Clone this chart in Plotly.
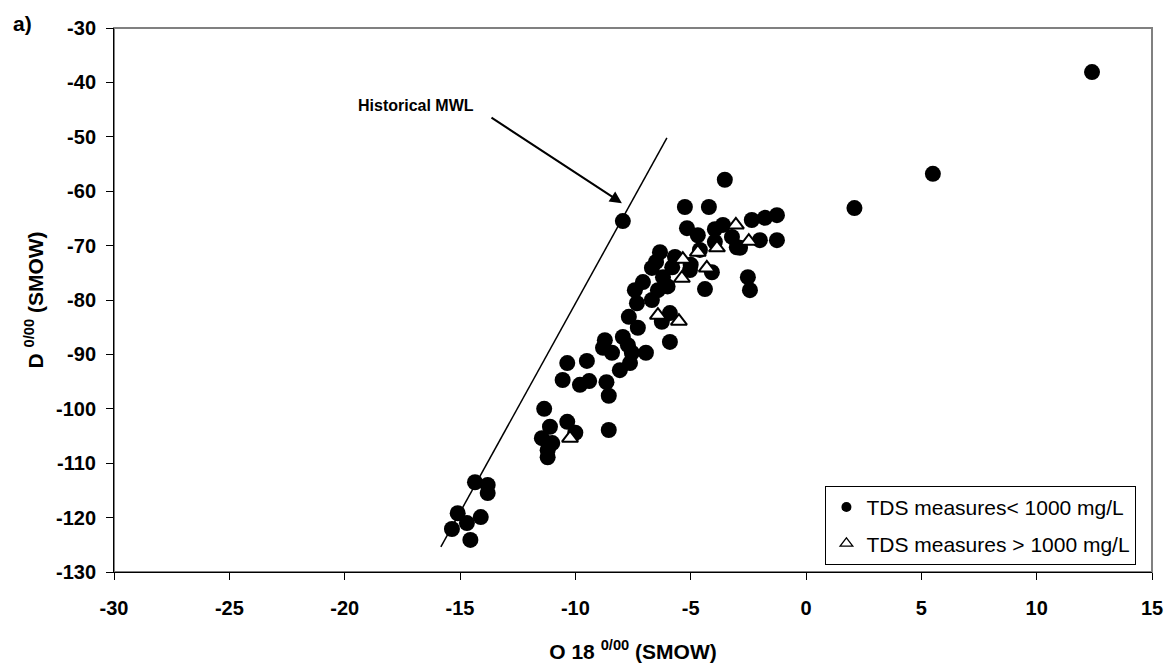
import plotly.graph_objects as go

# TDS < 1000 mg/L (filled circles)
low_tds_o18 = [12.4, 5.5, 2.1,
    -14.35, -13.8, -13.8, -15.1, -14.1, -14.7, -15.35, -14.55,
    -11.35, -11.1, -11.45, -11.0, -11.2, -11.2, -10.35, -10.0, -8.55,
    -10.35, -9.5, -10.55, -9.8, -9.4, -8.65, -8.55,
    -7.33, -6.68, -7.68, -7.29, -7.94, -8.72, -8.80, -8.41, -7.72, -7.55, -6.94, -7.63, -8.07, -5.90, -6.25, -5.90,
    -7.94, -5.25, -4.21, -3.52,
    -5.16, -4.69, -3.95, -3.60, -2.35, -1.78, -1.26, -2.0, -1.26, -3.0, -6.33, -6.68, -5.68, -7.07, -7.42,
    -6.42, -6.20, -5.03, -4.08, -4.38, -2.52, -2.43, -4.6, -3.95, -3.21, -2.86, -6.5, -5.8, -5.0, -6.0]
low_tds_d = [-38.1, -56.8, -63.1,
    -113.5, -114.0, -115.5, -119.2, -119.9, -121.0, -122.1, -124.1,
    -100.0, -103.3, -105.4, -106.3, -107.6, -108.9, -102.4, -104.4, -103.9,
    -91.6, -91.2, -94.7, -95.6, -94.9, -95.1, -97.6,
    -80.6, -80.0, -83.1, -85.1, -86.8, -87.4, -88.8, -89.7, -88.3, -89.7, -89.7, -91.6, -92.9, -87.7, -84.0, -82.4,
    -65.5, -62.9, -62.9, -57.9,
    -66.8, -68.1, -67.0, -66.2, -65.3, -64.9, -64.4, -69.0, -69.0, -70.3, -71.2, -74.1, -72.1, -76.7, -78.2,
    -78.2, -75.8, -74.5, -74.9, -78.0, -75.8, -78.2, -70.8, -69.3, -68.4, -70.4, -73.0, -74.0, -73.5, -77.5]

# TDS > 1000 mg/L (open triangles)
high_tds_o18 = [-3.04, -2.48, -3.86, -4.69, -5.34, -4.30, -5.38, -6.42, -5.51, -10.23]
high_tds_d = [-66.2, -69.2, -70.4, -71.2, -72.5, -74.1, -76.0, -82.8, -83.9, -105.4]

# Historical meteoric water line end points
mwl_o18 = [-15.83, -6.03]
mwl_d = [-125.4, -50.2]

x_ticks = [-30, -25, -20, -15, -10, -5, 0, 5, 10, 15]
y_ticks = [-30, -40, -50, -60, -70, -80, -90, -100, -110, -120, -130]

FONT = "Liberation Sans, Arial, sans-serif"

fig = go.Figure()
fig.add_trace(go.Scatter(x=mwl_o18, y=mwl_d, mode="lines",
                         line=dict(color="black", width=1.5), showlegend=False, hoverinfo="skip"))
fig.add_trace(go.Scatter(x=low_tds_o18, y=low_tds_d, mode="markers",
                         marker=dict(symbol="circle", size=16, color="black", line=dict(width=0)),
                         showlegend=False))
fig.add_trace(go.Scatter(x=high_tds_o18, y=high_tds_d, mode="markers",
                         marker=dict(symbol="triangle-up", size=14, color="white",
                                     line=dict(color="black", width=2)),
                         showlegend=False))
# legend entries
fig.add_trace(go.Scatter(x=[None], y=[None], mode="markers", name="TDS measures< 1000 mg/L",
                         marker=dict(symbol="circle", size=10, color="black"), legendgroup="a"))
fig.add_trace(go.Scatter(x=[None], y=[None], mode="markers", name="TDS measures > 1000 mg/L",
                         marker=dict(symbol="triangle-up", size=11, color="white",
                                     line=dict(color="black", width=1.3)), legendgroup="b"))

fig.add_annotation(x=-16.9, y=-44.2, xref="x", yref="y", text="<b>Historical MWL</b>",
                   showarrow=False, font=dict(family=FONT, size=16, color="black"))
fig.add_annotation(x=-7.98, y=-62.2, ax=-13.7, ay=-46.3, xref="x", yref="y",
                   axref="x", ayref="y", text="", showarrow=True,
                   arrowhead=2, arrowsize=1.2, arrowwidth=2, arrowcolor="black")
fig.add_annotation(x=-0.0886, y=1.0074, xref="paper", yref="paper", text="<b>a)</b>",
                   showarrow=False, xanchor="center", yanchor="middle",
                   font=dict(family=FONT, size=21, color="black"))

fig.add_shape(type="rect", xref="paper", yref="paper", x0=0, y0=0, x1=1, y1=1,
              line=dict(color="#808080", width=2), layer="below")

fig.update_layout(
    width=1172, height=668,
    margin=dict(l=114, r=20, t=28, b=96),
    paper_bgcolor="white", plot_bgcolor="white",
    font=dict(family=FONT, color="black"),
    showlegend=True,
    legend=dict(x=0.985, y=0.013, xanchor="right", yanchor="bottom",
                bordercolor="black", borderwidth=1, bgcolor="white",
                font=dict(family=FONT, size=21, color="black"),
                traceorder="grouped", tracegroupgap=6, itemwidth=30),
    xaxis=dict(range=[-30, 15], tickvals=x_ticks, ticktext=[f"<b>{v}</b>" for v in x_ticks],
               ticks="outside", ticklen=7, ticklabelstandoff=11, automargin=False,
               tickcolor="black", showline=True, linecolor="black", linewidth=1,
               showgrid=False, zeroline=False,
               tickfont=dict(family=FONT, size=20, color="black"),
               title=dict(text="<b>O 18 <sup>0/00</sup> (SMOW)</b>", standoff=26,
                          font=dict(family=FONT, size=21, color="black"))),
    yaxis=dict(range=[-130, -30], tickvals=y_ticks, ticktext=[f"<b>{v}</b>" for v in y_ticks],
               ticks="outside", ticklen=7, ticklabelstandoff=6, automargin=False,
               tickcolor="black", showline=True, linecolor="black", linewidth=1,
               showgrid=False, zeroline=False,
               tickfont=dict(family=FONT, size=20, color="black"),
               title=dict(text="<b>D <sup>0/00</sup> (SMOW)</b>", standoff=6,
                          font=dict(family=FONT, size=21, color="black"))),
)

fig.write_html("out.html")
